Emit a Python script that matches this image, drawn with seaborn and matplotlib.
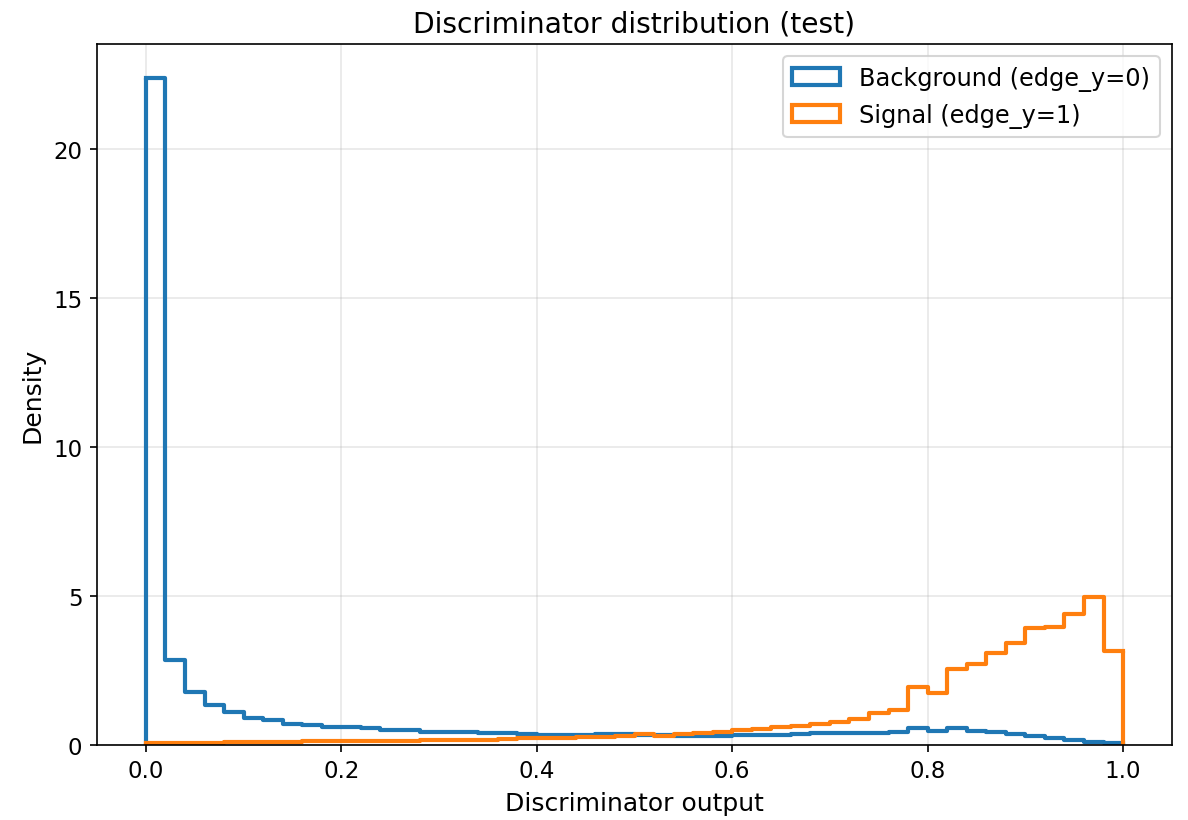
import matplotlib
matplotlib.use("Agg")
import matplotlib.pyplot as plt
import matplotlib.patches as mpatches
import seaborn as sns
import numpy as np
import pandas as pd

# 50 bins on [0, 1], densities
edges = np.linspace(0, 1, 51)
centers = (edges[:-1] + edges[1:]) / 2

background = [
    22.4, 2.85, 1.79, 1.34, 1.09, 0.90, 0.84, 0.69, 0.67, 0.59,
    0.59, 0.56, 0.51, 0.49, 0.45, 0.45, 0.45, 0.40, 0.39, 0.36,
    0.35, 0.35, 0.35, 0.36, 0.38, 0.34, 0.34, 0.30, 0.29, 0.30,
    0.33, 0.34, 0.34, 0.37, 0.39, 0.39, 0.39, 0.39, 0.43, 0.57,
    0.48, 0.57, 0.48, 0.42, 0.36, 0.31, 0.23, 0.16, 0.10, 0.07,
]
signal = [
    0.06, 0.06, 0.06, 0.06, 0.10, 0.10, 0.10, 0.10, 0.14, 0.14,
    0.14, 0.14, 0.14, 0.14, 0.18, 0.18, 0.17, 0.17, 0.21, 0.22,
    0.23, 0.24, 0.27, 0.28, 0.31, 0.36, 0.30, 0.37, 0.40, 0.45,
    0.50, 0.55, 0.60, 0.64, 0.70, 0.78, 0.87, 1.06, 1.18, 1.96,
    1.76, 2.54, 2.71, 3.08, 3.43, 3.91, 3.95, 4.40, 4.97, 3.15,
]
labels = ["Background (edge_y=0)", "Signal (edge_y=1)"]
colors = ["#1f77b4", "#ff7f0e"]

fig, ax = plt.subplots(figsize=(7.92, 5.473), dpi=150)

handles = []
for vals, lab, c in zip([background, signal], labels, colors):
    df = pd.DataFrame({"x": centers, "w": vals})
    sns.histplot(data=df, x="x", weights="w", bins=list(edges), element="step",
                 fill=False, stat="count", color=c, linewidth=2, ax=ax)
    # close the outline down to zero at both ends, like hist(histtype='step')
    ax.vlines([edges[0], edges[-1]], 0, [vals[0], vals[-1]], color=c, linewidth=2)
    handles.append(mpatches.Patch(facecolor="none", edgecolor=c, linewidth=2, label=lab))

ax.set_xlim(-0.05, 1.05)
ax.set_ylim(0, 23.52)
ax.grid(alpha=0.3)
ax.set_axisbelow(True)
ax.tick_params(labelsize=11)
ax.set_xlabel("Discriminator output", fontsize=12)
ax.set_ylabel("Density", fontsize=12)
ax.set_title("Discriminator distribution (test)", fontsize=13.5)
ax.legend(handles=handles, loc="upper right", fontsize=11.5)

fig.subplots_adjust(left=0.0817, right=0.9865, top=0.945, bottom=0.0914)
fig.savefig("out.png")
